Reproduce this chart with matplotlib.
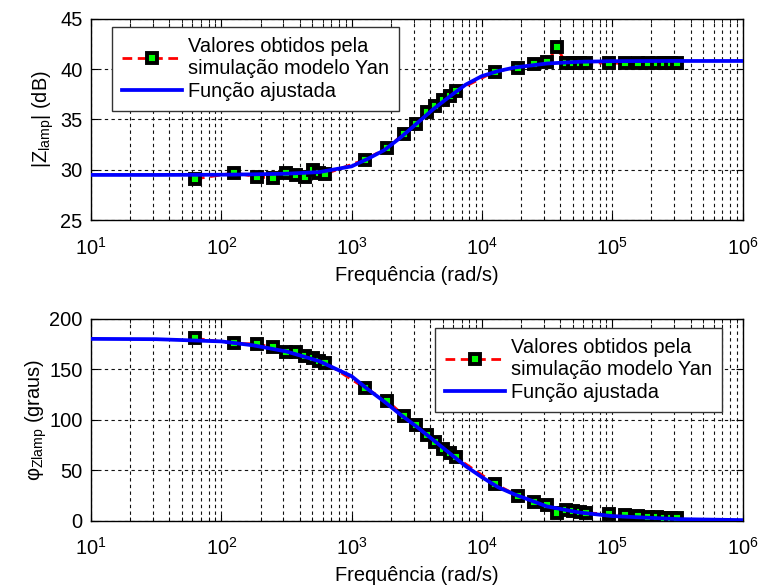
import matplotlib
matplotlib.use("Agg")
import matplotlib.pyplot as plt
from matplotlib.ticker import LogLocator, NullFormatter

plt.rcParams['font.family'] = ['Liberation Sans', 'DejaVu Sans']
plt.rcParams['mathtext.fontset'] = 'custom'
plt.rcParams['mathtext.rm'] = 'Liberation Sans'
plt.rcParams['mathtext.it'] = 'Liberation Sans:italic'
plt.rcParams['mathtext.default'] = 'regular'

# ---- data ----
omega = [62.8, 125.7, 188.5, 251.3, 314.2, 377.0, 439.8, 502.7, 565.5, 628.3,
         1257, 1885, 2513, 3142, 3770, 4398, 5027, 5655, 6283,
         12566, 18850, 25133, 31416, 37699, 43982, 50265, 56549, 62832,
         94248, 125664, 157080, 188496, 219911, 251327, 282743, 314159]
mag_sim = [29.1, 29.7, 29.3, 29.2, 29.7, 29.5, 29.3, 30.0, 29.7, 29.6,
           31.0, 32.2, 33.6, 34.55, 35.7, 36.3, 36.9, 37.35, 37.8,
           39.75, 40.1, 40.45, 40.65, 42.15, 40.6, 40.55, 40.6, 40.6,
           40.6, 40.55, 40.6, 40.55, 40.6, 40.55, 40.6, 40.55]
phase_sim = [180.5, 175.5, 175.0, 171.5, 167.0, 167.0, 163.0, 161.0, 158.5, 156.5,
             131.5, 118.5, 104.0, 95.0, 85.0, 77.5, 71.0, 66.5, 62.8,
             36.5, 24.5, 18.5, 15.0, 7.8, 11.0, 9.5, 8.5, 7.5,
             6.8, 5.2, 4.3, 3.5, 3.2, 2.7, 2.6, 2.5]

omega_fit = [10, 31.6, 100, 177.8, 316.2, 562.3, 1000, 1334, 1778, 2371, 3162,
             4217, 5623, 7499, 10000, 13335, 17783, 31623, 56234, 100000,
             316228, 1000000]
mag_fit = [29.5, 29.5, 29.52, 29.56, 29.62, 29.78, 30.35, 31.1, 31.95, 33.2, 34.6,
           36.0, 37.25, 38.45, 39.3, 39.8, 40.15, 40.55, 40.72, 40.78, 40.8, 40.8]
phase_fit = [180, 179.7, 177.5, 173.5, 167.5, 158, 143, 130, 118, 105, 93,
             80, 67, 54, 43, 33, 26, 14, 8, 4.5, 1.5, 0.5]

label_sim = 'Valores obtidos pela\nsimulação modelo Yan'
label_fit = 'Função ajustada'
xlabel = 'Frequência (rad/s)'
ylabel_top = '|Z$_{lamp}$| (dB)'
ylabel_bot = 'φ$_{Zlamp}$ (graus)'
yticks_top = [25, 30, 35, 40, 45]
yticks_bot = [0, 50, 100, 150, 200]

FS = 14.4

fig = plt.figure(figsize=(7.59, 5.87), dpi=100)
ax1 = fig.add_axes([0.1199, 0.6247, 0.8584, 0.3436])
ax2 = fig.add_axes([0.1199, 0.1131, 0.8584, 0.3440])

grid_kw = dict(color='#111111', linestyle=(0, (3, 3)), linewidth=0.8)

def style(ax, yticks):
    ax.set_xscale('log')
    ax.set_xlim(10, 1e6)
    ax.set_ylim(yticks[0], yticks[-1])
    ax.set_yticks(yticks)
    ax.xaxis.set_major_locator(LogLocator(base=10, numticks=10))
    ax.xaxis.set_minor_locator(LogLocator(base=10, subs=range(2, 10), numticks=20))
    ax.xaxis.set_minor_formatter(NullFormatter())
    ax.tick_params(which='both', direction='in', top=True, right=True, labelsize=FS)
    ax.tick_params(which='major', length=5)
    ax.tick_params(which='minor', length=3)
    ax.tick_params(axis='x', which='major', pad=12)
    ax.tick_params(axis='y', which='major', pad=6)
    ax.grid(True, which='major', axis='both', **grid_kw)
    ax.grid(True, which='minor', axis='x', **grid_kw)
    ax.set_axisbelow(True)
    for s in ax.spines.values():
        s.set_linewidth(1.0)
    ax.set_xlabel(xlabel, fontsize=FS, labelpad=5)

for ax, ysim, yfit, yt, yl in [(ax1, mag_sim, mag_fit, yticks_top, ylabel_top),
                                (ax2, phase_sim, phase_fit, yticks_bot, ylabel_bot)]:
    style(ax, yt)
    ax.plot(omega, ysim, color='red', linestyle=(0, (3.5, 2)), linewidth=2.0,
            marker='s', markersize=6.6, markerfacecolor='#00ff00',
            markeredgecolor='black', markeredgewidth=2.8, label=label_sim, zorder=3)
    ax.plot(omega_fit, yfit, color='#0000ff', linewidth=2.7, label=label_fit, zorder=4)
    ax.set_ylabel(yl, fontsize=FS)

ax1.yaxis.set_label_coords(-0.054, 0.5)
ax2.yaxis.set_label_coords(-0.065, 0.5)

leg_kw = dict(fontsize=FS, frameon=True, fancybox=False, framealpha=1,
              edgecolor='#333333', borderaxespad=0, handlelength=3.0,
              labelspacing=0.2, borderpad=0.5, handletextpad=0.3)
l1 = ax1.legend(loc='upper left', bbox_to_anchor=(0.032, 0.957), **leg_kw)
l2 = ax2.legend(loc='upper right', bbox_to_anchor=(0.968, 0.952), **leg_kw)
for l in (l1, l2):
    l.get_frame().set_linewidth(1.0)

fig.savefig('out.png', dpi=100)
